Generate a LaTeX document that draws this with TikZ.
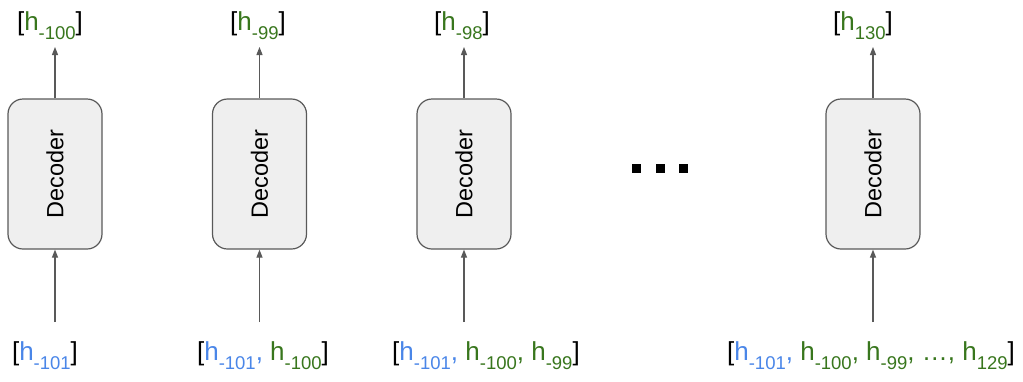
\documentclass[tikz,border=0pt]{standalone}
\usepackage{fontspec}
\setmainfont{Liberation Sans}
\usetikzlibrary{arrows.meta}
\definecolor{hblue}{HTML}{4A86E8}
\definecolor{hgreen}{HTML}{38761D}
\definecolor{edgegray}{HTML}{595959}
\definecolor{boxfill}{HTML}{EFEFEF}
\newcommand\hsub[1]{\raisebox{-9.5pt}{\fontsize{18.5}{22}\selectfont #1}}
\newcommand\hb[1]{\textcolor{hblue}{#1}}
\newcommand\hg[1]{\textcolor{hgreen}{#1}}
\begin{document}
\begin{tikzpicture}[x=1pt,y=-1pt,
  decbox/.style={draw=edgegray, line width=1.2pt, fill=boxfill, rounded corners=15pt,
    minimum width=94pt, minimum height=150pt, inner sep=0pt,
    font=\fontsize{23.5}{26}\selectfont},
  lab/.style={inner sep=0pt, anchor=base, font=\fontsize{26}{30}\selectfont},
  arr/.style={draw=edgegray, line width=1.2pt, -{Triangle[length=8pt,width=6pt]}},
  dot/.style={fill=black}]
\useasboundingbox (0,0) rectangle (1023,381);
% decoders
\node[decbox] (d1) at (55,174) {\rotatebox{90}{Decoder}};
\node[decbox] (d2) at (259.5,174) {\rotatebox{90}{Decoder}};
\node[decbox] (d3) at (464,174) {\rotatebox{90}{Decoder}};
\node[decbox] (d4) at (873,174) {\rotatebox{90}{Decoder}};
% top labels
\node[lab] (t1) at (50,30) {[\hg{h\hsub{-100}}]};
\node[lab] (t2) at (258,30) {[\hg{h\hsub{-99}}]};
\node[lab] (t3) at (462,30) {[\hg{h\hsub{-98}}]};
\node[lab] (t4) at (863,30) {[\hg{h\hsub{130}}]};
% bottom labels
\node[lab] (b1) at (45,360) {[\hb{h\hsub{-101}}]};
\node[lab] (b2) at (263,360) {[\hb{h\hsub{-101},} \hg{h\hsub{-100}}]};
\node[lab] (b3) at (486,360) {[\hb{h\hsub{-101},} \hg{h\hsub{-100}, h\hsub{-99}}]};
\node[lab] (b4) at (871,360) {[\hb{h\hsub{-101},} \hg{h\hsub{-100}, h\hsub{-99}, \dots, h\hsub{129}}]};
% arrow end points
\coordinate (a1) at (55,47);
\coordinate (a2) at (259.5,47);
\coordinate (a3) at (464,47);
\coordinate (a4) at (873,47);
\coordinate (s1) at (55,322);
\coordinate (s2) at (259.5,322);
\coordinate (s3) at (464,322);
\coordinate (s4) at (873,322);
\foreach \i in {1,2,3,4}{
  \draw[arr] (d\i.north) -- (a\i);
  \draw[arr] (s\i) -- (d\i.south);
}
% ellipsis squares
\fill[dot] (632,164) rectangle (641,173);
\fill[dot] (656,164) rectangle (665,173);
\fill[dot] (679,164) rectangle (688,173);
\end{tikzpicture}
\end{document}
